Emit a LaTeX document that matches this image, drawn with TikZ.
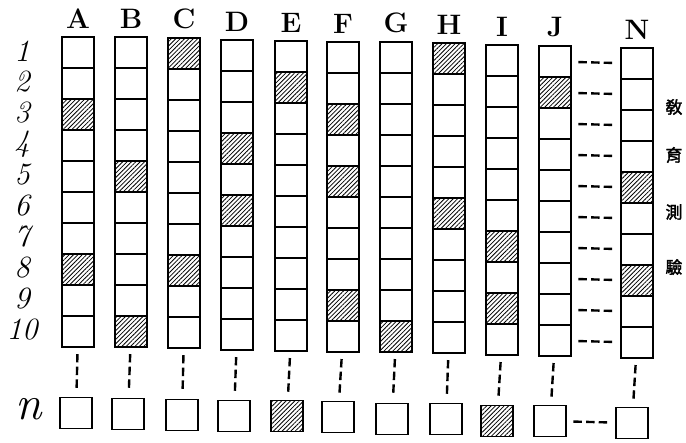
\documentclass[tikz,border=0pt]{standalone}
\usepackage{fontspec}
\newfontfamily\cjkfont[AutoFakeBold=2]{Noto Sans CJK TC}
\usetikzlibrary{patterns.meta}
\usetikzlibrary{positioning}

\begin{document}
\begin{tikzpicture}[
    x=0.025cm, y=-0.025cm,
    cell/.style={draw, line width=1.4pt, minimum width=0.82cm, minimum height=0.775cm, inner sep=0pt, outer sep=0pt},
    hatch0/.style={},
    hatch1/.style={pattern={Lines[angle=45, distance=2.2pt, line width=0.6pt]}},
    collab/.style={font=\fontsize{20}{20}\selectfont\bfseries, inner sep=0pt},
    rowlab/.style={font=\fontsize{22}{22}\selectfont\itshape, inner sep=0pt},
    dashlink/.style={line width=1.7pt, dash pattern=on 6pt off 3pt, shorten <=5pt, shorten >=5pt},
    cjk/.style={font={\cjkfont\bfseries\fontsize{12}{12}\selectfont}, inner sep=0pt}
]
  \useasboundingbox (0,0) rectangle (686,442);

  % Test columns: x, top, shaded rows, n square
  \foreach \col/\x/\t/\fl/\nx/\ny/\nf in {
      A/78/37/{0,0,1,0,0,0,0,1,0,0}/76/413/0,
      B/131/37/{0,0,0,0,1,0,0,0,0,1}/128/414/0,
      C/184/38/{1,0,0,0,0,0,0,1,0,0}/182/415/0,
      D/237/40/{0,0,0,1,0,1,0,0,0,0}/234/416/0,
      E/291/41/{0,1,0,0,0,0,0,0,0,0}/287/416/1,
      F/343/42/{0,0,1,0,1,0,0,0,1,0}/338/417/0,
      G/396/42/{0,0,0,0,0,0,0,0,0,1}/392/419/0,
      H/449/43/{1,0,0,0,0,1,0,0,0,0}/446/419/0,
      I/502/45/{0,0,0,0,0,0,1,0,1,0}/497/421/1,
      J/555/46/{0,1,0,0,0,0,0,0,0,0}/550/421/0,
      N/637/48/{0,0,0,0,1,0,0,1,0,0}/632/423/0}{
    \foreach \f [count=\r] in \fl
      \node[cell, hatch\f] (\col\r) at (\x, {\t+31*\r-15.5}) {};
    \node[collab, above=6pt of \col1] (lab\col) {\col};
    \node[cell, hatch\nf] (n\col) at (\nx, \ny) {};
    \draw[dashlink] (\col10) -- (n\col);
  }

  % Row numbers
  \foreach \r in {1,...,10}
    \node[rowlab] (row\r) at (22, {37+31*\r-17}) {\r};
  \node[font=\fontsize{34}{34}\selectfont\itshape, inner sep=0pt] (rown) at (29, 409) {n};

  % Dashes between J and N
  \foreach \r in {1,...,10}
    \draw[dashlink] (J\r) -- (N\r);
  \draw[dashlink] (nJ) -- (nN);

  % Title down the right side
  \foreach \ch/\y [count=\i] in {敎/107, 育/155, 測/212, 驗/267}
    \node[cjk] (t\i) at (674, \y) {\ch};

\end{tikzpicture}
\end{document}
